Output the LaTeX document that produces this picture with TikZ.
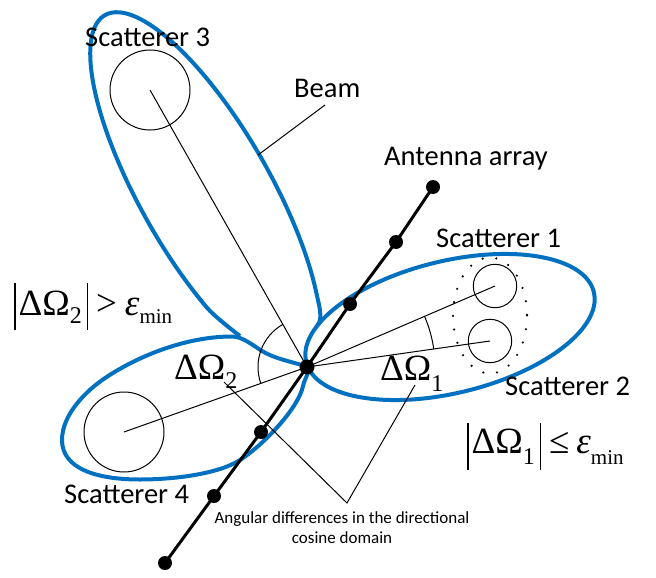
\documentclass[tikz,border=0pt]{standalone}
\usepackage{fontspec}
\setmainfont{Carlito}
\newfontfamily\tms{Liberation Serif}
\definecolor{beamblue}{RGB}{0,112,192}
\newcommand{\mybar}[2]{\rule[-#1pt]{1.3pt}{#2pt}}
\newcommand{\subsz}{\fontsize{24}{24}\selectfont}
\newcommand{\minsz}{\fontsize{21}{21}\selectfont}
\begin{document}
\begin{tikzpicture}[x=1pt,y=1pt,yscale=-1,
  bl/.style={draw=beamblue, line width=4pt},
  thinline/.style={line width=1pt},
  antline/.style={line width=3pt},
  lab/.style={font=\fontsize{28.5}{30}\selectfont, inner sep=0pt, anchor=base west},
  smalltxt/.style={font=\fontsize{17}{20}\selectfont, align=center, inner sep=0pt},
  mth/.style={font=\tms\fontsize{37}{37}\selectfont, inner sep=0pt, anchor=base west},
  dotdot/.style={line width=2.4pt, line cap=round, dash pattern=on 0pt off 13.7pt}]
\useasboundingbox (0,0) rectangle (656,578);

% key coordinates
\coordinate (o) at (307,367);
\coordinate (c3) at (150,90);
\coordinate (c4) at (124,432);
\coordinate (c1) at (495,286);
\coordinate (c2) at (490,341);

% lobes
\draw[bl, rotate around={-13.66:(450,327)}] (450,327) ellipse[x radius=148, y radius=66];
\draw[bl] (303,386) .. controls (304.6,378.2) and (312.6,368.4) .. (305,366)
  .. controls (291.7,361.8) and (273.9,358.4) .. (262,351)
  .. controls (251.8,344.6) and (242,336.5) .. (232,336.5)
  .. controls (187,336.5) and (139.4,355.3) .. (106,377.4)
  .. controls (85.2,391.2) and (62,415) .. (62,440)
  .. controls (62,468) and (95,479.5) .. (140,479.5)
  .. controls (175,479.5) and (219,473.7) .. (240,460)
  .. controls (265.1,443.6) and (298.6,407.6) .. cycle;
\begin{scope}[shift={(205.5,191.5)}, rotate=-119.67]
  \draw[bl] (-142.65,-41.55) .. controls (-133.48,-45.53) and (-111.36,-54.45) .. (-101.5,-56.29)
    arc[start angle=-120, end angle=135, x radius=203, y radius=65]
    .. controls (-155.0,42.3) and (-168.36,39.56) .. (-171.68,31.23);
\end{scope}

% scatterers
\draw[thinline] (c3) circle (40);
\draw[thinline] (c4) circle (40);
\draw[thinline] (c1) circle (21.7);
\draw[thinline] (c2) circle (21.7);
\draw[dotdot] (490,315.5) ellipse[x radius=37, y radius=58];

% rays
\draw[thinline] (o) -- (c3);
\draw[thinline] (o) -- (c4);
\draw[thinline] (o) -- (c1);
\draw[thinline] (o) -- (c2);

% angle arcs
\draw[thinline] (o) ++(160.4:49) arc[start angle=160.4, end angle=240.5, radius=49];
\draw[thinline] (o) ++(-23.3:128) arc[start angle=-23.3, end angle=-8.1, radius=128];

% antenna array
\coordinate (a1) at (165,563);
\coordinate (a2) at (214,496);
\coordinate (a3) at (261,432);
\coordinate (a4) at (307,367);
\coordinate (a5) at (350,304);
\coordinate (a6) at (396,242);
\coordinate (a7) at (433,187);
\draw[antline] (a1) -- (a2) -- (a3) -- (a4) -- (a5) -- (a6) -- (a7);
\foreach \p in {a1,a2,a3,a5,a6,a7} \fill (\p) circle (7);
\fill (a4) circle (7.5);

% leaders
\coordinate (b1) at (325,105);
\coordinate (b2) at (258,155);
\draw[thinline] (b1) -- (b2);
\coordinate (q1) at (224,382);
\coordinate (qv) at (347,503);
\coordinate (q2) at (415,385);
\draw[thinline] (q1) -- (qv) -- (q2);

% labels
\node[lab] (s3lab) at (85,47) {Scatterer 3};
\node[lab] (beamlab) at (294,97) {Beam};
\node[lab] (antlab) at (384,165) {Antenna array};
\node[lab] (s1lab) at (436,247) {Scatterer 1};
\node[lab] (s2lab) at (505,395) {Scatterer 2};
\node[lab] (s4lab) at (64,503) {Scatterer 4};
\node[smalltxt] (angtxt) at (342,528) {Angular differences in the directional\\cosine domain};

\node[mth] (d1lab) at (380,380) {ΔΩ\raisebox{-11pt}{\subsz 1}};
\node[mth] (d2lab) at (174,379) {ΔΩ\raisebox{-9pt}{\subsz 2}};
\node[mth] (f2) at (14,315) {\mybar{15}{47}\kern3pt ΔΩ\raisebox{-8pt}{\subsz 2}\kern5pt\mybar{15}{47}\kern8pt>\kern8pt\textit{ε}\raisebox{-8pt}{\minsz min}};
\node[mth] (f1) at (467,453) {\mybar{17}{47}\kern3pt ΔΩ\raisebox{-11pt}{\subsz 1}\kern5pt\mybar{17}{47}\kern8pt≤\kern7pt\textit{ε}\raisebox{-11pt}{\minsz min}};
\end{tikzpicture}
\end{document}
